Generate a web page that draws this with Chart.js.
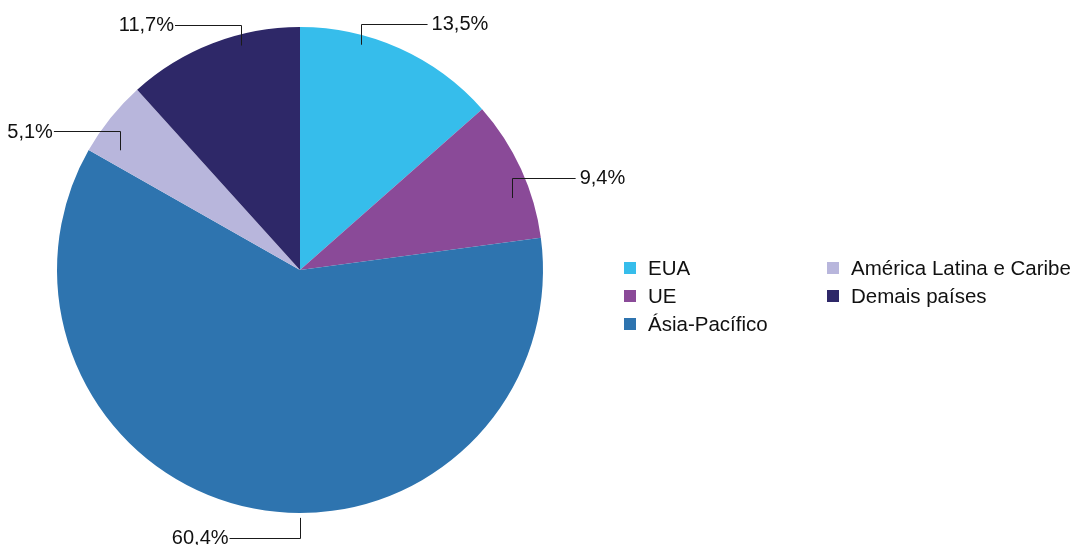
<!DOCTYPE html>
<html lang="pt-BR">
<head>
<meta charset="utf-8">
<title>Participação por região</title>
<script src="https://cdn.jsdelivr.net/npm/chart.js@4"></script>
<style>
  html, body { margin: 0; padding: 0; background: #fff; }
  #wrap { position: relative; width: 1075px; height: 545px; }
  #legend {
    position: absolute; left: 624px; top: 257px;
    display: grid; grid-template-columns: 203px auto; row-gap: 6px;
    font-family: "Liberation Sans", Arial, sans-serif; font-size: 20.5px; color: #111;
  }
  #legend div { display: flex; align-items: center; height: 22px; white-space: nowrap; }
  #legend span { display: inline-block; width: 12px; height: 12px; margin-right: 12px; }
</style>
</head>
<body>
<div id="wrap">
  <canvas id="pieChart" width="1075" height="545"></canvas>
  <div id="legend"></div>
</div>
<script>
const regions = ['EUA', 'UE', 'Ásia-Pacífico', 'América Latina e Caribe', 'Demais países'];
const shares = [13.5, 9.4, 60.4, 5.1, 11.7];
const sliceColors = ['#36bdeb', '#8a4a98', '#2e74af', '#b8b6dc', '#2e2868'];

// where each leader line leaves its slice: fraction of the slice span, fraction of radius,
// vertical run (negative = up), horizontal run (negative = left)
const leaders = [
  { at: 0.31, r: 0.96, rise: -21, run: 67 },
  { at: 0.67, r: 0.92, rise: -20, run: 64 },
  { at: 0.45, r: 1.02, rise: 20, run: -70 },
  { at: 0.22, r: 0.89, rise: -19, run: -66 },
  { at: 0.65, r: 0.955, rise: -21, run: -66 }
];

const leaderLabels = {
  id: 'leaderLabels',
  afterDatasetsDraw(chart) {
    const ctx = chart.ctx;
    const arcs = chart.getDatasetMeta(0).data;
    ctx.save();
    ctx.strokeStyle = '#1a1a1a';
    ctx.lineWidth = 1;
    ctx.fillStyle = '#111';
    ctx.font = '20px "Liberation Sans", Arial, sans-serif';
    ctx.textBaseline = 'middle';
    arcs.forEach((arc, i) => {
      const l = leaders[i];
      const a = arc.startAngle + (arc.endAngle - arc.startAngle) * l.at;
      const x0 = arc.x + Math.cos(a) * arc.outerRadius * l.r;
      const y0 = arc.y + Math.sin(a) * arc.outerRadius * l.r;
      const y1 = y0 + l.rise;
      const x1 = x0 + l.run;
      ctx.beginPath();
      ctx.moveTo(Math.round(x0) + 0.5, y0);
      ctx.lineTo(Math.round(x0) + 0.5, Math.round(y1) + 0.5);
      ctx.lineTo(x1, Math.round(y1) + 0.5);
      ctx.stroke();
      const text = shares[i].toFixed(1).replace('.', ',') + '%';
      ctx.textAlign = l.run > 0 ? 'left' : 'right';
      ctx.fillText(text, x1 + (l.run > 0 ? 4 : -1), y1 + 1);
    });
    ctx.restore();
  }
};

new Chart(document.getElementById('pieChart').getContext('2d'), {
  type: 'pie',
  data: {
    labels: regions,
    datasets: [{
      data: shares,
      backgroundColor: sliceColors,
      borderWidth: 0
    }]
  },
  options: {
    responsive: false,
    animation: false,
    layout: { padding: { top: 27, bottom: 32, left: 57, right: 532 } },
    plugins: {
      legend: { display: false },
      tooltip: { enabled: false }
    }
  },
  plugins: [leaderLabels]
});

// two-column legend: first three regions on the left, the rest on the right
const legend = document.getElementById('legend');
const order = [0, 3, 1, 4, 2];
order.forEach(i => {
  const item = document.createElement('div');
  item.innerHTML = '<span style="background:' + sliceColors[i] + '"></span>' + regions[i];
  legend.appendChild(item);
});
</script>
</body>
</html>
